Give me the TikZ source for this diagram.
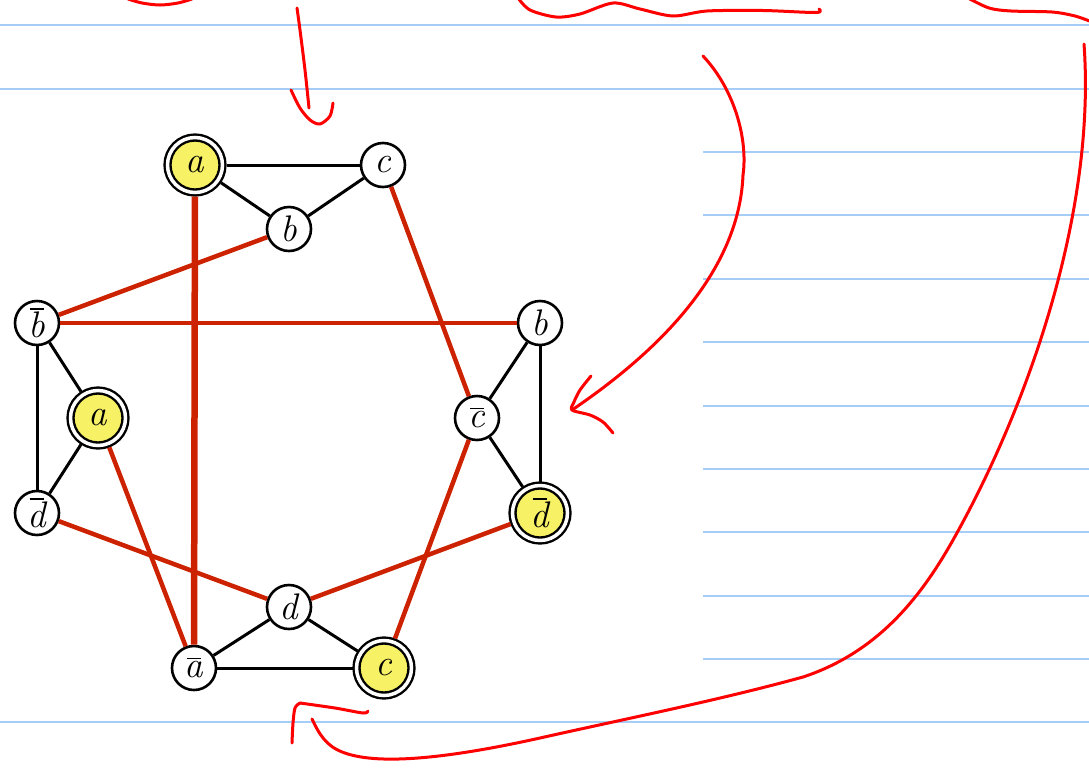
\documentclass[tikz,border=0pt]{standalone}
\definecolor{edgered}{RGB}{204,34,0}
\definecolor{inkred}{RGB}{255,0,0}
\definecolor{rulecol}{RGB}{165,205,245}
\definecolor{nodeyellow}{RGB}{247,241,102}
\newcommand{\ovl}[1]{\setbox0\hbox{#1}\vbox{\offinterlineskip\hbox to\wd0{\hss\vrule width 0.8\wd0 height 1.4pt depth 0pt\hss}\kern 2pt\box0}}
\tikzset{
  bl/.style={draw=black, line width=3pt},
  rd/.style={draw=edgered, line width=4.5pt},
  rdthick/.style={draw=edgered, line width=6.5pt},
  lettr/.style={font=\fontsize{37}{40}\selectfont\itshape, text=black},
  plain/.style={lettr, circle, draw=black, line width=2.6pt, fill=white, minimum size=44pt, inner sep=0pt},
  gold/.style={lettr, circle, draw=black, line width=2.4pt, double=white, double distance=3.5pt, fill=nodeyellow, minimum size=55pt, inner sep=0pt, outer sep=4pt},
  hand/.style={draw=inkred, line width=3pt, line cap=round, line join=round},
  rule/.style={draw=rulecol, line width=2pt}
}
\begin{document}
\begin{tikzpicture}[x=1pt,y=-1pt]
\useasboundingbox (0,0) rectangle (1089,769);
\clip (0,0) rectangle (1089,769);
% ruled lines
\foreach \yy in {25,89,722} {\draw[rule] (0,\yy) -- (1089,\yy);}
\foreach \yy in {152,215,279,342,406,469,532,596,659} {\draw[rule] (703,\yy) -- (1089,\yy);}
% nodes
\node[gold]  (a1)  at (195,165) {a};
\node[plain] (c1)  at (383,165) {c};
\node[plain] (b1)  at (289,229) {b};
\node[plain] (nb)  at (37,323)  {\ovl{b}};
\node[plain] (b2)  at (540,323) {b};
\node[gold]  (a2)  at (98,418)  {a};
\node[plain] (nc)  at (477,418) {\ovl{c}};
\node[plain] (nd)  at (37,513)  {\ovl{d}};
\node[gold]  (nd2) at (540,513) {\ovl{d}};
\node[plain] (d)   at (289,607) {d};
\node[plain] (na)  at (194,668) {\ovl{a}};
\node[gold]  (c2)  at (384,668) {c};
% black edges
\draw[bl] (a1) -- (c1);
\draw[bl] (a1) -- (b1);
\draw[bl] (b1) -- (c1);
\draw[bl] (nb) -- (a2);
\draw[bl] (a2) -- (nd);
\draw[bl] (nb) -- (nd);
\draw[bl] (b2) -- (nc);
\draw[bl] (nc) -- (nd2);
\draw[bl] (b2) -- (nd2);
\draw[bl] (na) -- (d);
\draw[bl] (d) -- (c2);
\draw[bl] (na) -- (c2);
% red edges
\draw[rd] (b1) -- (nb);
\draw[rd] (nb) -- (b2);
\draw[rd] (c1) -- (nc);
\draw[rd] (a2) -- (na);
\draw[rd] (nd) -- (d);
\draw[rd] (d) -- (nd2);
\draw[rd] (nc) -- (c2);
\draw[rdthick] (a1) -- (na);
% hand-drawn ink
\draw[hand] plot[smooth] coordinates {(128,-1) (142,3) (160,5) (178,3) (192,-1)};
\draw[hand] plot[smooth] coordinates {(297,8) (300,30) (305,70) (309,108)};
\draw[hand] plot[smooth] coordinates {(291,90) (300,108) (310,120) (320,124) (330,116) (333,103)};
\draw[hand] plot[smooth] coordinates {(518,-2) (530,10) (556,17) (580,14) (613,3) (640,9) (673,16) (707,11) (763,10.5) (816,12.5) (819,9)};
\draw[hand] plot[smooth] coordinates {(968,-2) (989,8) (1011,11) (1052,12) (1075,16) (1092,22)};
\draw[hand] (703,56) .. controls (735,90) and (748,140) .. (743,175)
            .. controls (740,250) and (690,330) .. (572,410);
\draw[hand] plot[smooth] coordinates {(591,376) (580,390) (574,402) (572,410) (590,415) (603,422) (613,433)};
\draw[hand] (1084,44) .. controls (1096,210) and (1030,400) .. (958,531)
            .. controls (928,586) and (885,650) .. (803,677)
            .. controls (720,700) and (620,720) .. (540,738)
            .. controls (450,758) and (360,770) .. (330,745)
            .. controls (320,737) and (315,725) .. (312,719);
\draw[hand] plot[smooth] coordinates {(292,743) (293,723) (295,708) (300,703)};
\draw[hand] plot[smooth] coordinates {(300,703) (335,708) (363,713) (368,711)};
\end{tikzpicture}
\end{document}
